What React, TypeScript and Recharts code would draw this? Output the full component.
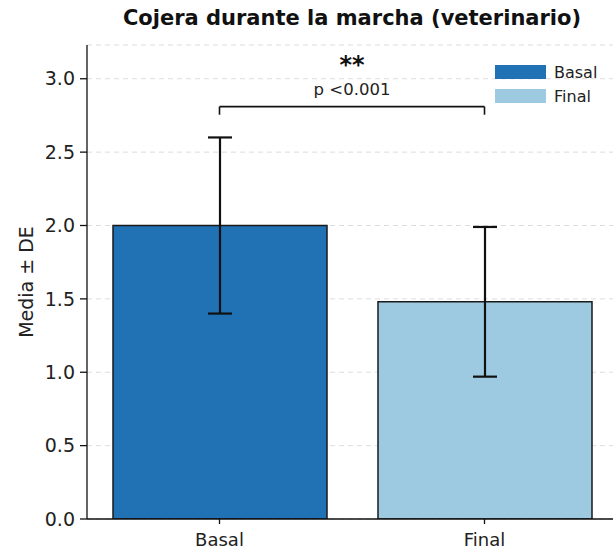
import React from 'react';
import {
  BarChart,
  Bar,
  Cell,
  XAxis,
  YAxis,
  CartesianGrid,
  ErrorBar,
  ReferenceLine,
} from 'recharts';

const categories = ['Basal', 'Final'];
const means = [2.0, 1.48];
const sds = [0.6, 0.51];
const barColors = ['#2171b5', '#9ecae1'];
const yTicks = [0, 0.5, 1.0, 1.5, 2.0, 2.5, 3.0];
const yMax = 3.23;

// significance bracket
const bracketTop = 2.81;
const bracketFoot = 2.755;
const pText = 'p <0.001';
const stars = '**';

const data = categories.map((name, i) => ({ name, mean: means[i], sd: sds[i] }));

const FONT = '"DejaVu Sans", sans-serif';

const BracketText = (props: any) => {
  const vb = props.viewBox || {};
  const cx = vb.x + vb.width / 2;
  const y = vb.y;
  return (
    <g>
      <text x={cx} y={y - 42} textAnchor="middle" fontSize={24} fontWeight="bold" fill="#111" fontFamily={FONT} dominantBaseline="central">
        {stars}
      </text>
      <text x={cx} y={y - 17} textAnchor="middle" fontSize={16.5} fill="#222" fontFamily={FONT} dominantBaseline="central">
        {pText}
      </text>
    </g>
  );
};

export default function App() {
  return (
    <div style={{ position: 'fixed', left: 0, top: 0, width: 613, height: 551, overflow: 'hidden', background: '#fff', fontFamily: FONT }}>
      <div
        style={{
          position: 'absolute',
          left: 87,
          width: 530,
          top: 6,
          lineHeight: '24px',
          textAlign: 'center',
          fontSize: 21,
          fontWeight: 'bold',
          color: '#111',
        }}
      >
        Cojera durante la marcha (veterinario)
      </div>
      <BarChart width={618} height={551} data={data} margin={{ top: 45, right: 1, bottom: 0, left: 0 }}>
        <CartesianGrid vertical={false} stroke="#dddddd" strokeDasharray="5 4" />
        <XAxis
          dataKey="name"
          height={32}
          tickSize={5}
          tickMargin={9}
          tick={{ fontSize: 18, fill: '#222', fontFamily: FONT }}
          axisLine={{ stroke: '#111', strokeWidth: 1.3 }}
          tickLine={{ stroke: '#111', strokeWidth: 1.3 }}
        />
        <YAxis
          width={87}
          domain={[0, yMax]}
          ticks={yTicks}
          allowDataOverflow
          tickFormatter={(v: number) => v.toFixed(1)}
          tickSize={7}
          tickMargin={5}
          tick={{ fontSize: 19, fill: '#222', fontFamily: FONT }}
          axisLine={{ stroke: '#111', strokeWidth: 1.3 }}
          tickLine={{ stroke: '#111', strokeWidth: 1.3 }}
          label={{
            value: 'Media ± DE',
            angle: -90,
            position: 'insideLeft',
            offset: 26,
            style: { textAnchor: 'middle', fontSize: 19, fill: '#222', fontFamily: FONT },
          }}
        />
        <Bar dataKey="mean" barSize={214} stroke="#1a1a1a" strokeWidth={1.5} isAnimationActive={false}>
          {data.map((d, i) => (
            <Cell key={d.name} fill={barColors[i]} />
          ))}
          <ErrorBar dataKey="sd" width={12} stroke="#111" strokeWidth={2.2} direction="y" />
        </Bar>
        <ReferenceLine
          segment={[
            { x: categories[0], y: bracketTop },
            { x: categories[1], y: bracketTop },
          ]}
          stroke="#111"
          strokeWidth={1.6}
          label={BracketText}
        />
        <ReferenceLine
          segment={[
            { x: categories[0], y: bracketTop },
            { x: categories[0], y: bracketFoot },
          ]}
          stroke="#111"
          strokeWidth={1.6}
        />
        <ReferenceLine
          segment={[
            { x: categories[1], y: bracketTop },
            { x: categories[1], y: bracketFoot },
          ]}
          stroke="#111"
          strokeWidth={1.6}
        />
      </BarChart>
      <div style={{ position: 'absolute', left: 495, top: 60, fontSize: 16, color: '#222' }}>
        {categories.map((c, i) => (
          <div key={c} style={{ display: 'flex', alignItems: 'center', height: 24 }}>
            <span style={{ display: 'inline-block', width: 51, height: 14, background: barColors[i], marginRight: 8 }} />
            <span>{c}</span>
          </div>
        ))}
      </div>
    </div>
  );
}
